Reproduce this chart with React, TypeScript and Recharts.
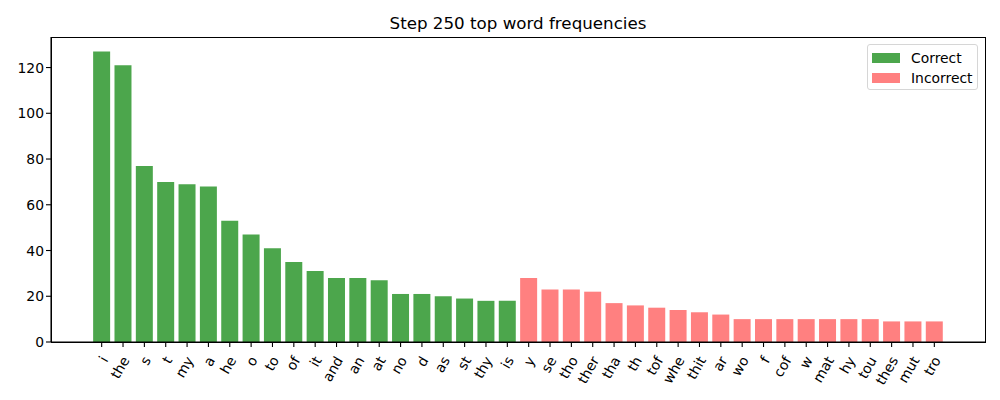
import React from "react";
import { BarChart, Bar, XAxis, YAxis } from "recharts";

const correctWords = ["i", "the", "s", "t", "my", "a", "he", "o", "to", "of", "it", "and", "an", "at", "no", "d", "as", "st", "thy", "is"];
const correctCounts = [127, 121, 77, 70, 69, 68, 53, 47, 41, 35, 31, 28, 28, 27, 21, 21, 20, 19, 18, 18];
const incorrectWords = ["y", "se", "tho", "ther", "tha", "th", "tof", "whe", "thit", "ar", "wo", "f", "cof", "w", "mat", "hy", "tou", "thes", "mut", "tro"];
const incorrectCounts = [28, 23, 23, 22, 17, 16, 15, 14, 13, 12, 10, 10, 10, 10, 10, 10, 10, 9, 9, 9];
const yTicks = [0, 20, 40, 60, 80, 100, 120];

const GREEN = "#4ca64c";
const RED = "#ff8080";
const FONT = "'DejaVu Sans', sans-serif";

const data = [
  ...correctWords.map((w, i) => ({ word: w, correct: correctCounts[i], incorrect: null as number | null })),
  ...incorrectWords.map((w, i) => ({ word: w, correct: null as number | null, incorrect: incorrectCounts[i] })),
];

const XTick = (props: any) => {
  const { x, y, payload } = props;
  const px = x + 7;
  const py = y + 13;
  return (
    <text
      x={px}
      y={py}
      textAnchor="end"
      transform={`rotate(-60 ${px} ${py})`}
      fontSize={13.9}
      fontFamily={FONT}
      fill="#000"
    >
      {payload.value}
    </text>
  );
};

const YTick = (props: any) => {
  const { x, y, payload } = props;
  return (
    <text x={x} y={y + 5} textAnchor="end" fontSize={13.9} fontFamily={FONT} fill="#000">
      {payload.value}
    </text>
  );
};

export default function App() {
  return (
    <div style={{ position: "absolute", left: 0, top: 0, width: 1000, height: 400, background: "#fff", fontFamily: FONT }}>
      <div
        style={{
          position: "absolute",
          left: 51,
          width: 934,
          top: 13,
          textAlign: "center",
          fontSize: 16.7,
          color: "#000",
        }}
      >
        Step 250 top word frequencies
      </div>
      <BarChart
        width={1000}
        height={400}
        data={data}
        margin={{ top: 37, right: 15, bottom: 8, left: 11 }}
        barCategoryGap="10%"
      >
        <XAxis
          dataKey="word"
          interval={0}
          tick={<XTick />}
          tickSize={5}
          tickMargin={0}
          height={50}
          padding={{ left: 40, right: 40 }}
          axisLine={{ stroke: "#000", strokeWidth: 1.1 }}
          tickLine={{ stroke: "#000", strokeWidth: 1.1 }}
        />
        <YAxis
          domain={[0, 133.35]}
          ticks={yTicks}
          width={40}
          tick={<YTick />}
          tickSize={5}
          tickMargin={2}
          allowDataOverflow
          axisLine={{ stroke: "#000", strokeWidth: 1.1 }}
          tickLine={{ stroke: "#000", strokeWidth: 1.1 }}
        />
        <Bar dataKey="correct" name="Correct" stackId="a" fill={GREEN} isAnimationActive={false} />
        <Bar dataKey="incorrect" name="Incorrect" stackId="a" fill={RED} isAnimationActive={false} />
      </BarChart>
      <div
        style={{
          position: "absolute",
          left: 50.5,
          top: 36.5,
          width: 935,
          height: 306,
          border: "1.1px solid #000",
          boxSizing: "border-box",
          pointerEvents: "none",
        }}
      />
      <div
        style={{
          position: "absolute",
          left: 867,
          top: 44,
          width: 111,
          height: 46,
          border: "1px solid #d6d6d6",
          borderRadius: 3,
          boxSizing: "border-box",
          fontSize: 13.9,
          color: "#000",
          background: "rgba(255,255,255,0.8)",
        }}
      >
        {[
          { label: "Correct", color: GREEN },
          { label: "Incorrect", color: RED },
        ].map((it, i) => (
          <div key={it.label} style={{ position: "absolute", left: 4, top: 4 + i * 20, height: 17, display: "flex", alignItems: "center" }}>
            <div style={{ width: 28, height: 10, background: it.color, marginRight: 11 }} />
            <span>{it.label}</span>
          </div>
        ))}
      </div>
    </div>
  );
}
